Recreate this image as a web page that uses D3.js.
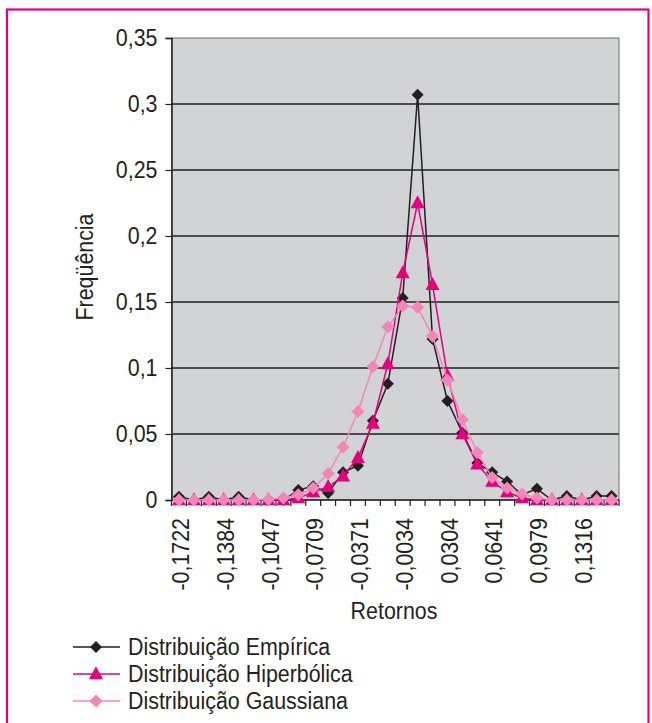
<!DOCTYPE html>
<html><head><meta charset="utf-8">
<script src="https://cdn.jsdelivr.net/npm/d3@7"></script>
<style>
html,body{margin:0;padding:0;background:#fff;}
text{font-family:"Liberation Sans",Arial,Helvetica,sans-serif;fill:#231f20;}
</style></head>
<body>
<svg id="chart" width="652" height="723"></svg>
<script>
const categories = [-0.1722,-0.1609,-0.1497,-0.1384,-0.1272,-0.1159,-0.1047,-0.0934,-0.0821,-0.0709,
  -0.0596,-0.0484,-0.0371,-0.0259,-0.0146,-0.0034,0.0079,0.0192,0.0304,0.0417,
  0.0529,0.0641,0.0754,0.0867,0.0979,0.1092,0.1204,0.1316,0.1429,0.1542];
const tickLabels = ["-0,1722","-0,1384","-0,1047","-0,0709","-0,0371","-0,0034","0,0304","0,0641","0,0979","0,1316"];
const yTicks = [0,0.05,0.1,0.15,0.2,0.25,0.3,0.35];
const yTickLabels = ["0","0,05","0,1","0,15","0,2","0,25","0,3","0,35"];
const empirica = [0.0025,0,0.0025,0,0.0025,0,0,0,0.0075,0.0105,0.0053,0.021,0.026,0.060,0.088,0.153,0.307,0.122,0.075,0.051,0.028,0.021,0.014,0.004,0.0085,0,0.003,0,0.003,0.003];
const hiperbolica = [0,0,0,0,0,0,0,0,0.0015,0.006,0.010,0.018,0.032,0.058,0.103,0.172,0.225,0.163,0.094,0.050,0.027,0.014,0.006,0.0015,0,0,0,0,0,0];
const gaussiana = [0,0,0,0,0,0,0.0005,0.0015,0.004,0.009,0.020,0.040,0.067,0.101,0.131,0.147,0.146,0.124,0.091,0.061,0.036,0.017,0.009,0.0045,0.0015,0,0,0,0,0];
const seriesNames = ["Distribuição Empírica","Distribuição Hiperbólica","Distribuição Gaussiana"];

const svg = d3.select("#chart");
const L = 171.5, R = 619, T = 38, B = 500;
const FS = 23;
const CONDENSE = 0.93;

// outer frame
svg.append("rect").attr("x",7).attr("y",9.5).attr("width",641.5).attr("height",740)
  .attr("fill","none").attr("stroke","#e6007e").attr("stroke-width",2.2);

const x = d3.scaleBand().domain(d3.range(categories.length)).range([L,R]).padding(0);
const cx = i => x(i) + x.bandwidth()/2;
const y = d3.scaleLinear().domain([0,0.35]).range([B,T]);

// plot area
svg.append("rect").attr("x",L).attr("y",T).attr("width",R-L).attr("height",B-T)
  .attr("fill","#d1d3d4").attr("stroke","#6d6e71").attr("stroke-width",1);

// gridlines
svg.append("g").selectAll("line").data(yTicks.filter(v=>v>0 && v<0.35)).join("line")
  .attr("x1",L).attr("x2",R).attr("y1",d=>y(d)).attr("y2",d=>y(d))
  .attr("stroke","#4d4d4f").attr("stroke-width",1.8);

// y axis
const yAxis = d3.axisLeft(y).tickValues(yTicks).tickSize(6).tickPadding(8)
  .tickFormat((d,i)=>yTickLabels[i]);
const gy = svg.append("g").attr("transform",`translate(${L},0)`).call(yAxis);
gy.select(".domain").attr("stroke","#231f20").attr("stroke-width",1.5);
gy.selectAll(".tick line").attr("stroke","#231f20").attr("stroke-width",1.2);
gy.selectAll(".tick text").attr("font-size",FS).attr("font-family","Liberation Sans, Arial").attr("fill","#231f20");

// x axis
const gx = svg.append("g");
gx.append("line").attr("x1",L).attr("x2",R).attr("y1",B).attr("y2",B).attr("stroke","#231f20").attr("stroke-width",1.5);
const bounds = d3.range(categories.length+1).map(i => i<categories.length ? x(i) : R);
gx.selectAll("line.tk").data(bounds).join("line").attr("class","tk")
  .attr("x1",d=>d).attr("x2",d=>d).attr("y1",B).attr("y2",B+6).attr("stroke","#231f20").attr("stroke-width",1.2);
gx.selectAll("text").data(tickLabels).join("text")
  .attr("transform",(d,i)=>`translate(${cx(i*3)+2},${B+18}) rotate(-90)`)
  .attr("text-anchor","end").attr("dy","0.35em").attr("font-size",FS).text(d=>d);

// axis titles
svg.append("text").attr("x",394).attr("y",619).attr("text-anchor","middle").attr("font-size",FS).text("Retornos");
svg.append("text").attr("transform","translate(93,267) rotate(-90)").attr("text-anchor","middle").attr("font-size",FS).text("Freqüência");

// markers
const diamond = r => `M0,${-r}L${r},0L0,${r}L${-r},0Z`;
const triangle = (w,h) => `M0,${-h*0.6}L${w},${h*0.4}L${-w},${h*0.4}Z`;
const series = [
  {data:empirica, color:"#231f20", path:diamond(6), width:1.5},
  {data:hiperbolica, color:"#e6007e", path:triangle(7,13), width:1.5},
  {data:gaussiana, color:"#f287b7", path:diamond(6.5), width:1.5}
];
const line = d3.line().x((d,i)=>cx(i)).y(d=>y(d));
series.forEach(s=>{
  const g = svg.append("g");
  g.append("path").datum(s.data).attr("d",line).attr("fill","none").attr("stroke",s.color).attr("stroke-width",s.width);
  g.selectAll("path.m").data(s.data).join("path").attr("class","m")
    .attr("transform",(d,i)=>`translate(${cx(i)},${y(d)})`).attr("d",s.path).attr("fill",s.color);
});

// legend
const legY = [647,674,701];
series.forEach((s,i)=>{
  const g = svg.append("g").attr("transform",`translate(0,${legY[i]})`);
  g.append("line").attr("x1",73).attr("x2",120).attr("y1",0).attr("y2",0).attr("stroke",s.color).attr("stroke-width",1.5);
  g.append("path").attr("transform","translate(96,0)").attr("d",s.path).attr("fill",s.color);
  g.append("text").attr("x",128).attr("y",0).attr("dy","0.36em").attr("font-size",FS).text(seriesNames[i]);
});

// slightly condensed lettering, like the original typeface
svg.selectAll("text").each(function(){
  const len = this.getComputedTextLength();
  d3.select(this).attr("textLength", len*CONDENSE).attr("lengthAdjust","spacingAndGlyphs");
});
</script>
</body></html>
